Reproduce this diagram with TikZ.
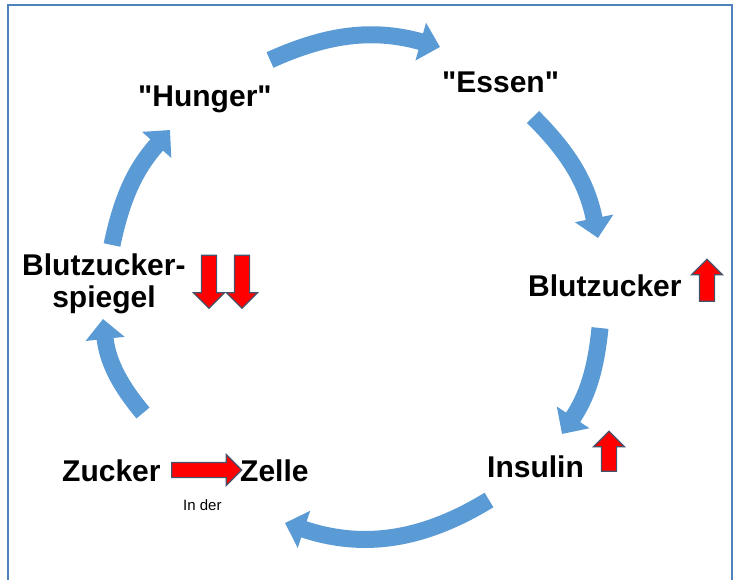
\documentclass[tikz,border=0pt]{standalone}
\usepackage{fontspec}
\setmainfont{Liberation Sans}
\usetikzlibrary{arrows.meta,shapes.arrows}
\definecolor{cycblue}{HTML}{5B9BD5}
\definecolor{frameblue}{HTML}{4F81BD}
\definecolor{rimgray}{HTML}{44546A}

\begin{document}
\begin{tikzpicture}[x=1pt,y=-1pt,
    lbl/.style={font=\fontsize{30}{34}\selectfont\bfseries,inner sep=0pt,anchor=base west},
    cyc/.style={cycblue,line width=17pt,-{Triangle[width=38pt,length=20pt]}},
    redarr/.style={single arrow,fill=red,draw=rimgray,line width=1.2pt,
        inner xsep=0pt,inner ysep=7pt,single arrow head extend=8pt}]
  \useasboundingbox (0,0) rectangle (737,580);
  \draw[frameblue,line width=1.5pt] (8,585) -- (8,5) -- (732,5) -- (732,585);

  \node[lbl] (hunger) at (138,107) {\textquotedbl Hunger\textquotedbl};
  \node[lbl] (essen)  at (442,93)  {\textquotedbl Essen\textquotedbl};
  \node[lbl] (bzr)    at (528,297) {Blutzucker};
  \node[lbl] (bzl)    at (22,276)  {Blutzucker-};
  \node[lbl,anchor=base] (spiegel) at (104,308) {spiegel};
  \node[lbl] (zucker) at (62,481)  {Zucker};
  \node[lbl] (zelle)  at (240,481) {Zelle};
  \node[lbl] (insulin) at (487,477) {Insulin};
  \node[font=\fontsize{15}{17}\selectfont,inner sep=0pt,anchor=base west] (inder) at (183,510) {In der};

  \node[redarr,minimum height=53pt,rotate=-90] (runter1) at (209,278) {};
  \node[redarr,minimum height=53pt,rotate=-90] (runter2) at (242,278) {};
  \node[redarr,minimum height=42pt,rotate=90] (hoch1) at (707,284) {};
  \node[redarr,minimum height=40pt,rotate=90] (hoch2) at (609,455) {};
  \node[redarr,minimum height=70pt] (nach) at (203,470) {};

  \coordinate (t1) at (270,60);  \coordinate (h1) at (440,47);
  \coordinate (t2) at (533,117); \coordinate (h2) at (598,238);
  \coordinate (t3) at (600,328); \coordinate (h3) at (562,434);
  \coordinate (t4) at (489,500); \coordinate (h4) at (285,523);
  \coordinate (t5) at (143,413); \coordinate (h5) at (103,319);
  \coordinate (t6) at (112,245); \coordinate (h6) at (170,130);

  \draw[cyc] (t1) to[bend left=20] (h1);
  \draw[cyc] (t2) to[bend left=17] (h2);
  \draw[cyc] (t3) to[bend left=14] (h3);
  \draw[cyc] (t4) to[bend left=25] (h4);
  \draw[cyc] (t5) to[bend left=17] (h5);
  \draw[cyc] (t6) to[bend left=15] (h6);
\end{tikzpicture}
\end{document}
